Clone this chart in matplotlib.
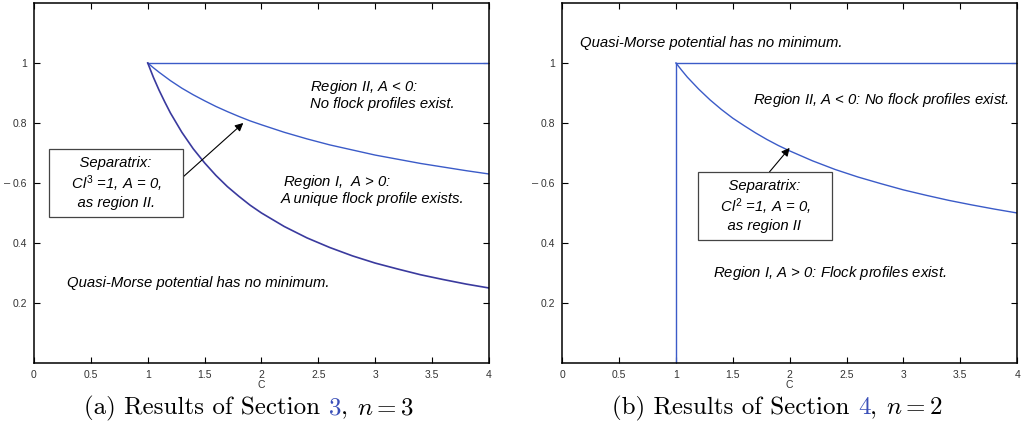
import matplotlib.pyplot as plt

plt.rcParams['font.family'] = 'Liberation Sans'
plt.rcParams['mathtext.fontset'] = 'custom'
plt.rcParams['mathtext.it'] = 'Liberation Sans:italic'
plt.rcParams['mathtext.rm'] = 'Liberation Sans'

# values
C_vals = [1.0, 1.05, 1.1, 1.15, 1.2, 1.3, 1.4, 1.5, 1.6, 1.7, 1.8, 1.9, 2.0,
          2.2, 2.4, 2.6, 2.8, 3.0, 3.2, 3.4, 3.6, 3.8, 4.0]
# panel (a), n = 3
sep_a = [1.000, 0.984, 0.969, 0.955, 0.941, 0.916, 0.894, 0.874, 0.855, 0.838, 0.822, 0.807, 0.794,
         0.769, 0.747, 0.727, 0.710, 0.693, 0.679, 0.665, 0.653, 0.641, 0.630]
nomin_a = [1.000, 0.952, 0.909, 0.870, 0.833, 0.769, 0.714, 0.667, 0.625, 0.588, 0.556, 0.526, 0.500,
           0.455, 0.417, 0.385, 0.357, 0.333, 0.313, 0.294, 0.278, 0.263, 0.250]
# panel (b), n = 2
sep_b = [1.000, 0.976, 0.953, 0.933, 0.913, 0.877, 0.845, 0.816, 0.791, 0.767, 0.745, 0.725, 0.707,
         0.674, 0.645, 0.620, 0.598, 0.577, 0.559, 0.542, 0.527, 0.513, 0.500]
top_x = [1, 4]
top_y = [1, 1]
vert_x = [1, 1]
vert_y = [0, 1]

xticks = [0, 0.5, 1, 1.5, 2, 2.5, 3, 3.5, 4]
xticklabels = ['0', '0.5', '1', '1.5', '2', '2.5', '3', '3.5', '4']
yticks = [0.2, 0.4, 0.6, 0.8, 1.0]
yticklabels = ['0.2', '0.4', '0.6', '0.8', '1']

blue = '#3b5bc8'
navy = '#3a3a9e'
tfs = 10.7

fig = plt.figure(figsize=(10.24, 4.33), dpi=100)
ax1 = fig.add_axes([0.0332, 0.1617, 0.4443, 0.8314])
ax2 = fig.add_axes([0.549, 0.1617, 0.4443, 0.8314])

for ax in (ax1, ax2):
    ax.set_xlim(0, 4)
    ax.set_ylim(0, 1.2)
    ax.set_xticks(xticks)
    ax.set_xticklabels(xticklabels)
    ax.set_yticks(yticks)
    ax.set_yticklabels(yticklabels)
    ax.tick_params(direction='in', top=True, right=True, length=4, width=0.8,
                   labelsize=7.5, colors='black', pad=5)
    ax.tick_params(axis='x', labelcolor='#333333')
    ax.tick_params(axis='y', labelcolor='#333333')
    for sp in ax.spines.values():
        sp.set_linewidth(1.1)
    ax.set_xlabel('C', fontsize=7.5, labelpad=0, color='#333333')
    ax.set_ylabel('–', fontsize=8, rotation=0, labelpad=4, va='center', color='#333333')

box = dict(boxstyle='square,pad=0.45', fc='white', ec='#444444', lw=0.9)

# panel (a)
ax1.plot(top_x, top_y, color=blue, lw=1.0)
ax1.plot(C_vals, sep_a, color=blue, lw=1.0)
ax1.plot(C_vals, nomin_a, color=navy, lw=1.2)
ax1.text(2.43, 0.92, 'Region II, $A$ < 0:', style='italic', fontsize=tfs, va='center')
ax1.text(2.43, 0.863, 'No flock profiles exist.', style='italic', fontsize=tfs, va='center')
ax1.text(2.19, 0.603, 'Region I,  $A$ > 0:', style='italic', fontsize=tfs, va='center')
ax1.text(2.17, 0.548, 'A unique flock profile exists.', style='italic', fontsize=tfs, va='center')
ax1.text(0.29, 0.267, 'Quasi-Morse potential has no minimum.', style='italic', fontsize=tfs, va='center')
ax1.annotate('    Separatrix:    \n    $Cl^3$ =1, A = 0,    \n    as region II.    ',
             xy=(1.84, 0.80), xytext=(0.72, 0.60),
             ha='center', va='center', fontsize=tfs, style='italic', linespacing=1.2, bbox=box,
             arrowprops=dict(arrowstyle='-|>', color='black', lw=0.8, mutation_scale=12,
                             shrinkA=0, shrinkB=0, relpos=(1.0, 0.5)))

# panel (b)
ax2.plot(top_x, top_y, color=blue, lw=1.0)
ax2.plot(vert_x, vert_y, color=blue, lw=1.0)
ax2.plot(C_vals, sep_b, color=blue, lw=1.0)
ax2.text(0.16, 1.067, 'Quasi-Morse potential has no minimum.', style='italic', fontsize=tfs, va='center')
ax2.text(1.68, 0.877, 'Region II, $A$ < 0: No flock profiles exist.', style='italic', fontsize=tfs, va='center')
ax2.text(1.33, 0.30, 'Region I, $A$ > 0: Flock profiles exist.', style='italic', fontsize=tfs, va='center')
ax2.annotate('    Separatrix:    \n    $Cl^2$ =1, A = 0,    \n    as region II    ',
             xy=(2.0, 0.717), xytext=(1.78, 0.523),
             ha='center', va='center', fontsize=tfs, style='italic', linespacing=1.2, bbox=box,
             arrowprops=dict(arrowstyle='-|>', color='black', lw=0.8, mutation_scale=12,
                             shrinkA=0, shrinkB=0, relpos=(0.49, 1.0)))

# captions with a coloured section number
fig.canvas.draw()
renderer = fig.canvas.get_renderer()


def caption(xc, label, sec, nval):
    parts = [(f'({label}) Results of Section ', 'black'),
             (sec, '#3a4fb8'),
             (', ', 'black'),
             (f'$n = {nval}$', 'black')]
    texts = []
    for s, c in parts:
        t = fig.text(0, 0.043, s, color=c, fontsize=18, family='cmr10', math_fontfamily='cm', va='baseline')
        texts.append(t)
    widths = [t.get_window_extent(renderer).width for t in texts]
    total = sum(widths)
    x = xc * fig.bbox.width - total / 2
    for t, w in zip(texts, widths):
        t.set_x(x / fig.bbox.width)
        x += w


caption(0.243, 'a', '3', 3)
caption(0.759, 'b', '4', 2)

fig.savefig('out.png', dpi=100)
